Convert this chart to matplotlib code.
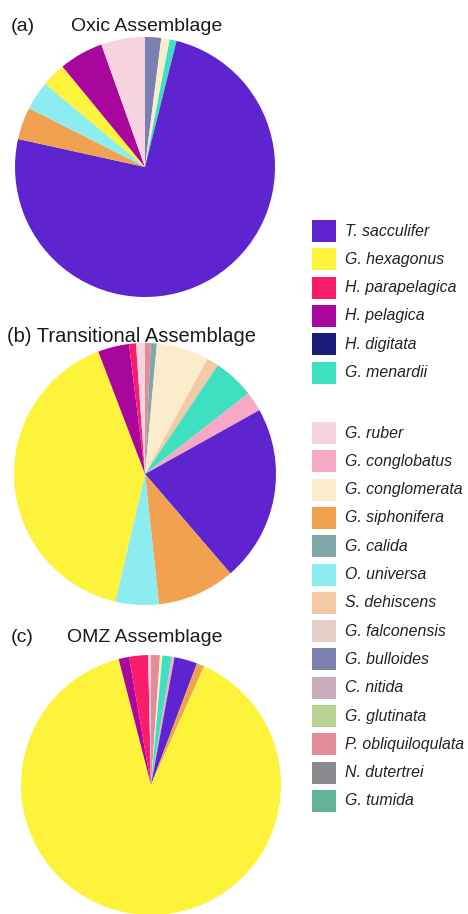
import matplotlib
matplotlib.use("Agg")
import matplotlib.pyplot as plt
from matplotlib.patches import Rectangle

plt.rcParams['font.family'] = ['Liberation Sans', 'DejaVu Sans']

# Legend taxa (top group and bottom group)
taxa_group1 = ["T. sacculifer", "G. hexagonus", "H. parapelagica", "H. pelagica",
               "H. digitata", "G. menardii"]
taxa_group2 = ["G. ruber", "G. conglobatus", "G. conglomerata", "G. siphonifera",
               "G. calida", "O. universa", "S. dehiscens", "G. falconensis",
               "G. bulloides", "C. nitida", "G. glutinata", "P. obliquiloqulata",
               "N. dutertrei", "G. tumida"]

taxon_colors = {
    "T. sacculifer": "#5e24d0",
    "G. hexagonus": "#fdf33a",
    "H. parapelagica": "#fb1d6b",
    "H. pelagica": "#a8069c",
    "H. digitata": "#1b1b78",
    "G. menardii": "#3ee0c0",
    "G. ruber": "#f6d3df",
    "G. conglobatus": "#f6a8c4",
    "G. conglomerata": "#fbeccb",
    "G. siphonifera": "#f0a251",
    "G. calida": "#7fa8a6",
    "O. universa": "#8cecf0",
    "S. dehiscens": "#f3c9a6",
    "G. falconensis": "#e6cec8",
    "G. bulloides": "#7a80b0",
    "C. nitida": "#c8afbb",
    "G. glutinata": "#b8d490",
    "P. obliquiloqulata": "#e48b98",
    "N. dutertrei": "#8a8a8e",
    "G. tumida": "#63b29a",
}

# (a) Oxic assemblage, % (clockwise from 12 o'clock)
oxic_taxa = ["G. bulloides", "G. conglomerata", "G. menardii", "T. sacculifer",
             "G. siphonifera", "O. universa", "G. hexagonus", "H. pelagica", "G. ruber"]
oxic_values = [2.0, 1.05, 0.85, 74.6, 4.0, 3.6, 3.0, 5.5, 5.45]

# (b) Transitional assemblage, %
trans_taxa = ["P. obliquiloqulata", "G. calida", "G. conglomerata", "S. dehiscens",
              "G. menardii", "G. conglobatus", "T. sacculifer", "G. siphonifera",
              "O. universa", "G. hexagonus", "H. pelagica", "H. parapelagica", "G. ruber"]
trans_values = [0.7, 0.75, 6.45, 1.5, 5.05, 2.45, 21.8, 9.6, 5.35, 40.55, 3.85, 0.85, 1.1]

# (c) OMZ assemblage, %
omz_taxa = ["P. obliquiloqulata", "G. conglomerata", "G. menardii", "G. conglobatus",
            "T. sacculifer", "G. siphonifera", "G. hexagonus", "H. pelagica",
            "H. parapelagica", "G. ruber"]
omz_values = [1.1, 0.3, 1.15, 0.35, 2.85, 0.95, 89.3, 1.3, 2.35, 0.35]

W, H = 468, 914
fig = plt.figure(figsize=(W / 100, H / 100), dpi=100)


def pie_axes(cx, cy, r):
    return fig.add_axes([(cx - r) / W, 1 - (cy + r) / H, 2 * r / W, 2 * r / H])


pies = [
    (145, 167, 130, oxic_taxa, oxic_values),
    (145, 474, 131, trans_taxa, trans_values),
    (151, 785, 130, omz_taxa, omz_values),
]
for cx, cy, r, taxa, vals in pies:
    ax = pie_axes(cx, cy, r)
    ax.pie(vals, colors=[taxon_colors[t] for t in taxa], startangle=90,
           counterclock=False, radius=1.0, wedgeprops=dict(linewidth=0))
    ax.set_xlim(-1, 1)
    ax.set_ylim(-1, 1)
    ax.set_aspect('equal')
    ax.axis('off')

# Titles
tsize = 14
tcol = '#1a1a1a'
fig.text(11 / W, 1 - 31 / H, "(a)", fontsize=tsize, ha='left', va='baseline', color=tcol)
fig.text(147 / W, 1 - 31 / H, "Oxic Assemblage", fontsize=tsize, ha='center', va='baseline', color=tcol)
fig.text(7 / W, 1 - 342 / H, "(b) Transitional Assemblage", fontsize=14.5, ha='left', va='baseline', color=tcol)
fig.text(11 / W, 1 - 642 / H, "(c)", fontsize=tsize, ha='left', va='baseline', color=tcol)
fig.text(145 / W, 1 - 642 / H, "OMZ Assemblage", fontsize=tsize, ha='center', va='baseline', color=tcol)

# Legend
lax = fig.add_axes([0, 0, 1, 1])
lax.set_xlim(0, W)
lax.set_ylim(H, 0)
lax.axis('off')
lax.patch.set_alpha(0)
rows = [(t, 231 + 28.3 * i) for i, t in enumerate(taxa_group1)]
rows += [(t, 433 + 28.3 * i) for i, t in enumerate(taxa_group2)]
for name, y in rows:
    lax.add_patch(Rectangle((312, y - 11), 24, 22, facecolor=taxon_colors[name], edgecolor='none'))
    lax.text(345, y, name, fontsize=11.4, style='italic', va='center', ha='left', color='#222222')

fig.savefig("out.png", dpi=100)
